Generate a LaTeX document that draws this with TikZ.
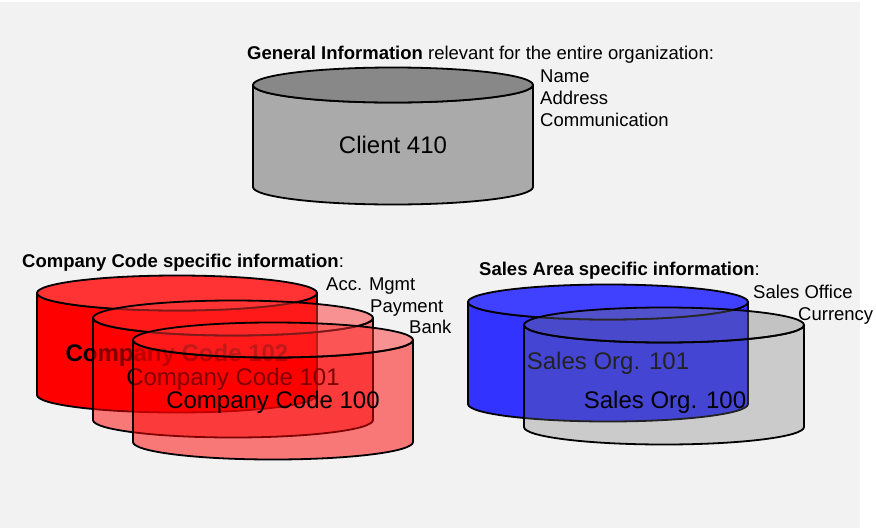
\documentclass[tikz,border=0pt]{standalone}
\usepackage{fontspec}
\setmainfont{Liberation Sans}
\usetikzlibrary{positioning}

\definecolor{bggray}{HTML}{F2F2F2}
\definecolor{clientside}{HTML}{AAAAAA}
\definecolor{clientlid}{HTML}{888888}
\definecolor{ccside}{HTML}{FF0000}
\definecolor{cclid}{HTML}{FF3333}
\definecolor{soside}{HTML}{3333FF}
\definecolor{solid}{HTML}{4040FF}
\definecolor{soghost}{HTML}{717171}

\tikzstyle{heading}   = [anchor=base west, inner sep=0pt, font=\fontsize{18.5}{22}\selectfont]
\tikzstyle{listtext}  = [anchor=base west, inner sep=0pt, font=\fontsize{18.5}{22}\selectfont]
\tikzstyle{disklabel} = [anchor=base, inner sep=0pt, font=\fontsize{24}{28}\selectfont]
\tikzstyle{rim}       = [draw=black, line width=1.8pt, line join=round]

% disk: #1 = left x, #2 = y of lid centre, #3 = side style, #4 = lid style
\newcommand{\drawdisk}[4]{%
  \path[rim, #3] (#1,#2) -- ++(0,102)
    arc[start angle=180, end angle=360, x radius=140pt, y radius=17.5pt] -- ++(0,-102)
    arc[start angle=0, end angle=-180, x radius=140pt, y radius=17.5pt] -- cycle;
  \path[rim, #4] (#1+140,#2) ellipse [x radius=140pt, y radius=17.5pt];
}

\begin{document}
\begin{tikzpicture}[x=1pt, y=-1pt]
  \useasboundingbox (0,0) rectangle (876,528);
  \fill[bggray] (0,2) rectangle (860,528);

  % client level
  \node (gentitle) [heading] at (247,59) {\textbf{General Information} relevant for the entire organization:};
  \drawdisk{253}{85}{fill=clientside}{fill=clientlid}
  \node (client)   [disklabel] at (393,153) {Client 410};
  \node (name)     [listtext] at (540,82) {Name};
  \node (address)  [listtext, below=22pt of name.base west, anchor=base west] {Address};
  \node (comm)     [listtext, below=22pt of address.base west, anchor=base west] {Communication};

  % company codes
  \node (cctitle)  [heading] at (22,267) {\textbf{Company Code specific information}:};
  \node (accmgmt)  [listtext] at (326,290) {Acc. Mgmt};
  \node (payment)  [listtext] at (370,312) {Payment};
  \node (bank)     [listtext] at (409,333) {Bank};
  \drawdisk{37}{293}{fill=ccside}{fill=cclid}
  \node (cc102)    [disklabel, font=\fontsize{24}{28}\selectfont\bfseries] at (177,361) {Company Code 102};
  \drawdisk{93}{318}{fill=ccside, fill opacity=0.5}{fill=cclid, fill opacity=0.5}
  \node (cc101)    [disklabel] at (233,385) {Company Code 101};
  \drawdisk{133}{340}{fill=ccside, fill opacity=0.5}{fill=cclid, fill opacity=0.5}
  \node (cc100)    [disklabel] at (273,408) {Company Code 100};

  % sales organizations
  \node (satitle)  [heading] at (479,275) {\textbf{Sales Area specific information}:};
  \node (office)   [listtext] at (753,298) {Sales Office};
  \node (currency) [listtext] at (798,320) {Currency};
  \drawdisk{468}{302}{fill=soside}{fill=solid}
  \node (so101)    [disklabel] at (608,369) {Sales Org. 101};
  \drawdisk{524}{325}{fill=soghost, fill opacity=0.3}{fill=soghost, fill opacity=0.36}
  \node (so100)    [disklabel] at (665,408) {Sales Org. 100};
\end{tikzpicture}
\end{document}
